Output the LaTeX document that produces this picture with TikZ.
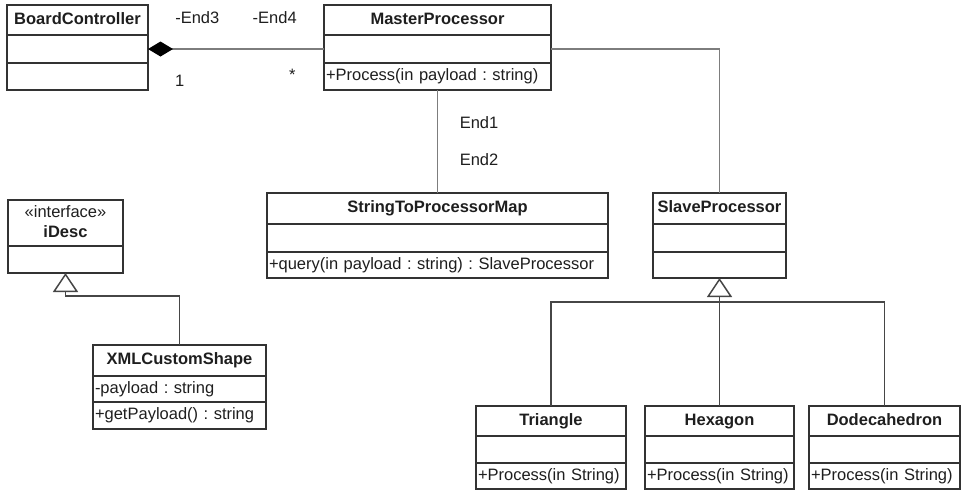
\documentclass[tikz,border=0pt]{standalone}
\usepackage{fontspec}
\setmainfont{Liberation Sans}
\usetikzlibrary{arrows.meta, positioning}
\definecolor{boxBorder}{RGB}{51, 51, 51}
\definecolor{linkGray}{RGB}{125, 125, 125}
\definecolor{genGray}{RGB}{70, 70, 70}
\definecolor{textDark}{RGB}{30, 30, 30}
\frenchspacing

\begin{document}
\begin{tikzpicture}[x=1pt, y=-1pt,
    every node/.style={font=\fontsize{16.5}{20}\selectfont, text=textDark},
    class_head/.style={rectangle, draw=boxBorder, line width=1.5pt, inner sep=0pt, outer sep=0pt, align=center, text height=12pt, text depth=3.5pt, font=\fontsize{16.5}{20}\selectfont\bfseries},
    class_row/.style={rectangle, draw=boxBorder, line width=1.5pt, inner xsep=2pt, inner ysep=0pt, outer sep=0pt, align=left, text height=12pt, text depth=3.5pt},
    link/.style={-, line width=1.6pt, linkGray},
    link_comp/.style={{Diamond[length=25pt, width=15pt, color=black]}-, line width=1.6pt, linkGray},
    link_gen/.style={-{Triangle[open, length=19pt, width=25pt]}, line width=1.5pt, genGray},
    end_label/.style={inner sep=0pt}
]
    \useasboundingbox (0, 0) rectangle (980, 490);

    % Top row classes
    \node[class_head, minimum width=141pt, minimum height=30pt] (board) at (77.5, 20) {BoardController};
    \node[class_row, text width=137pt, minimum height=28pt, below=0pt of board] (board-a) {};
    \node[class_row, text width=137pt, minimum height=27pt, below=0pt of board-a] (board-o) {};

    \node[class_head, minimum width=227pt, minimum height=30pt] (master) at (437.5, 20) {MasterProcessor};
    \node[class_row, text width=223pt, minimum height=28pt, below=0pt of master] (master-a) {};
    \node[class_row, text width=223pt, minimum height=27pt, below=0pt of master-a] (master-o) {+Process(in payload : string)};

    % Middle row classes
    \node[class_head, minimum width=341pt, minimum height=31pt] (map) at (437.5, 208.5) {StringToProcessorMap};
    \node[class_row, text width=337pt, minimum height=28pt, below=0pt of map] (map-a) {};
    \node[class_row, text width=337pt, minimum height=26pt, below=0pt of map-a] (map-o) {+query(in payload : string) : SlaveProcessor};

    \node[class_head, minimum width=133pt, minimum height=31pt] (slave) at (719.5, 208.5) {SlaveProcessor};
    \node[class_row, text width=129pt, minimum height=28pt, below=0pt of slave] (slave-a) {};
    \node[class_row, text width=129pt, minimum height=26pt, below=0pt of slave-a] (slave-o) {};

    % Interface and its realisation (left side)
    \node[class_head, text height=32pt, minimum width=115pt, minimum height=46pt] (idesc) at (65.5, 223) {{\mdseries «interface»}\\iDesc};
    \node[class_row, text width=111pt, minimum height=27pt, below=0pt of idesc] (idesc-a) {};

    \node[class_head, minimum width=173pt, minimum height=31pt] (xml) at (179.5, 360.5) {XMLCustomShape};
    \node[class_row, text width=169pt, minimum height=26pt, below=0pt of xml] (xml-a) {-payload : string};
    \node[class_row, text width=169pt, minimum height=27pt, below=0pt of xml-a] (xml-o) {+getPayload() : string};

    % Subclasses of SlaveProcessor (bottom row)
    \node[class_head, minimum width=150pt, minimum height=30pt] (triangle) at (551, 421) {Triangle};
    \node[class_row, text width=146pt, minimum height=27pt, below=0pt of triangle] (triangle-a) {};
    \node[class_row, text width=146pt, minimum height=26pt, below=0pt of triangle-a] (triangle-o) {+Process(in String)};

    \node[class_head, minimum width=149pt, minimum height=30pt] (hexagon) at (719.5, 421) {Hexagon};
    \node[class_row, text width=145pt, minimum height=27pt, below=0pt of hexagon] (hexagon-a) {};
    \node[class_row, text width=145pt, minimum height=26pt, below=0pt of hexagon-a] (hexagon-o) {+Process(in String)};

    \node[class_head, minimum width=151pt, minimum height=30pt] (dodeca) at (884.5, 421) {Dodecahedron};
    \node[class_row, text width=147pt, minimum height=27pt, below=0pt of dodeca] (dodeca-a) {};
    \node[class_row, text width=147pt, minimum height=26pt, below=0pt of dodeca-a] (dodeca-o) {+Process(in String)};

    % Associations
    \draw[link_comp] (board-a.east) --
        node[end_label, above=25pt, pos=0.28] {-End3}
        node[end_label, above=25pt, pos=0.72] {-End4}
        node[end_label, below=25pt, pos=0.18] {1}
        node[end_label, below=19pt, pos=0.82] {*} (master-a.west);
    \draw[link] (master-o.south) --
        node[end_label, right=21.5pt, pos=0.32] {End1}
        node[end_label, right=21.5pt, pos=0.675] {End2} (map.north);
    \draw[link] (master-a.east) -| (slave.north);

    % Generalisations
    \coordinate (xml_bend) at (179.5, 296);
    \draw[link_gen] (xml.north) -- (xml_bend) -| (idesc-a.south);
    \coordinate (tree_bus) at (719.5, 302);
    \draw[link_gen] (hexagon.north) -- (slave-o.south);
    \draw[link_gen, -] (triangle.north) |- (tree_bus) -| (dodeca.north);
\end{tikzpicture}
\end{document}
